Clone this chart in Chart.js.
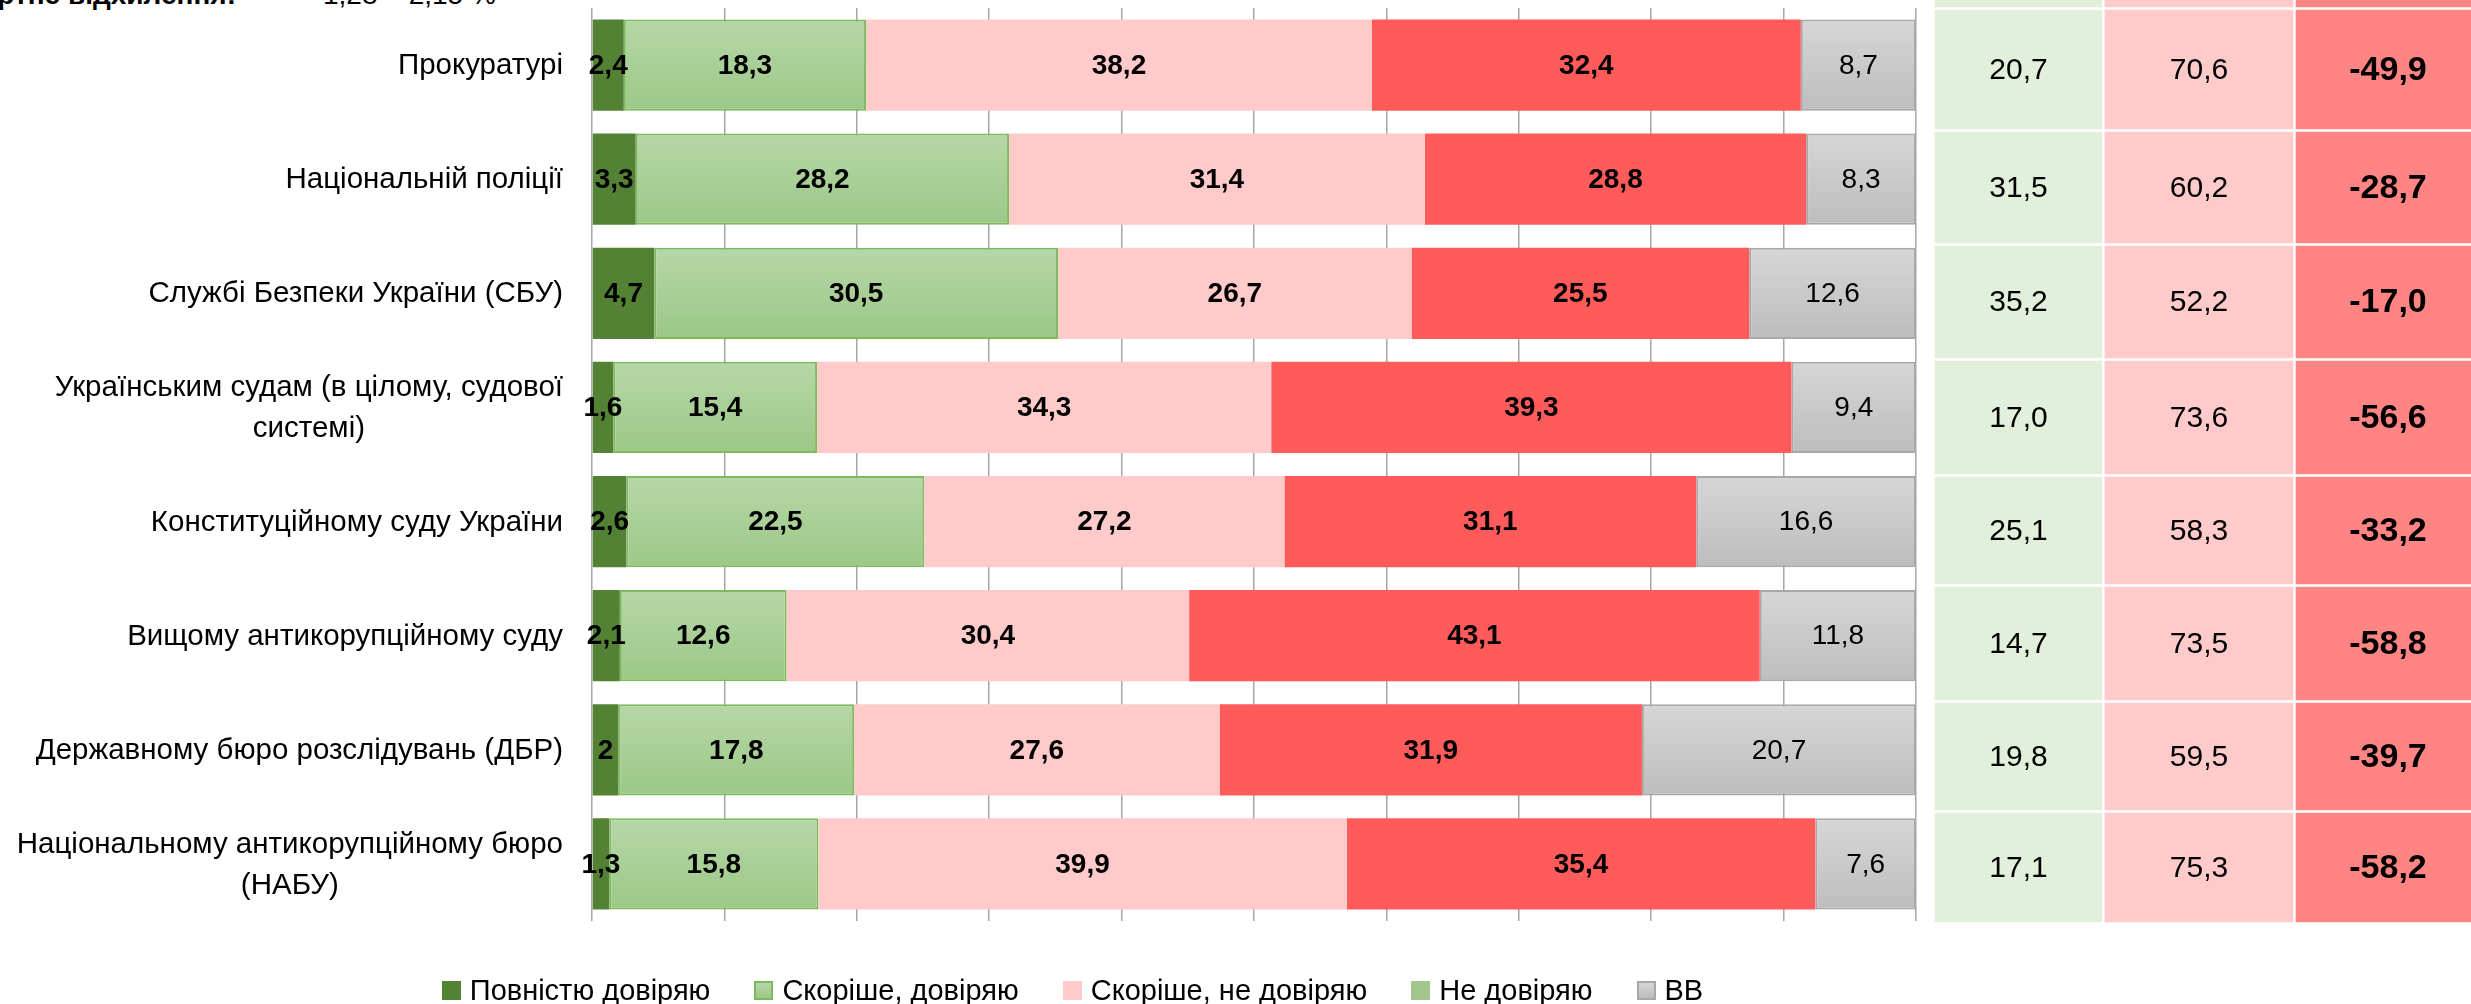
<!DOCTYPE html>
<html>
<head>
<meta charset="utf-8">
<script src="https://cdn.jsdelivr.net/npm/chart.js@4.4.0/dist/chart.umd.min.js"></script>
<style>
  html, body { margin: 0; padding: 0; background: #fff; }
  body { position: relative; width: 2471px; height: 1004px; overflow: hidden;
         font-family: "Liberation Sans", Arial, sans-serif; color: #000; }
  #barChart { position: absolute; left: 0; top: 0; }
  #tableChart { position: absolute; left: 1925px; top: 0; }
  .note { position: absolute; top: -19px; font-size: 28px; line-height: 28px; white-space: nowrap; }
  #legend { position: absolute; left: 0; width: 2145px; top: 975px; display: flex;
            justify-content: center; font-size: 29px; line-height: 30px; white-space: nowrap; }
  #legend .item { display: flex; align-items: center; margin: 0 22px; }
  #legend .sw { width: 19px; height: 19px; box-sizing: border-box; margin-right: 9px; }
</style>
</head>
<body>
<div class="note" style="right: 2235px; font-weight: bold;">Стандартне відхилення:</div>
<div class="note" style="left: 323px;">1,28 – 2,15 %</div>
<canvas id="barChart" width="1930" height="1004"></canvas>
<canvas id="tableChart" width="546" height="1004"></canvas>
<div id="legend"></div>
<script>
const categories = [
    ["Прокуратурі"],
    ["Національній поліції"],
    ["Службі Безпеки України (СБУ)"],
    ["Українським судам (в цілому, судової", "системі)"],
    ["Конституційному суду України"],
    ["Вищому антикорупційному суду"],
    ["Державному бюро розслідувань (ДБР)"],
    ["Національному антикорупційному бюро", "(НАБУ)"]
];
const seriesNames = ["Повністю довіряю", "Скоріше, довіряю", "Скоріше, не довіряю", "Не довіряю", "ВВ"];

const fullyTrust     = [2.4, 3.3, 4.7, 1.6, 2.6, 2.1, 2, 1.3];
const ratherTrust    = [18.3, 28.2, 30.5, 15.4, 22.5, 12.6, 17.8, 15.8];
const ratherDistrust = [38.2, 31.4, 26.7, 34.3, 27.2, 30.4, 27.6, 39.9];
const distrust       = [32.4, 28.8, 25.5, 39.3, 31.1, 43.1, 31.9, 35.4];
const hardToSay      = [8.7, 8.3, 12.6, 9.4, 16.6, 11.8, 20.7, 7.6];

const trustTotal    = [20.7, 31.5, 35.2, 17.0, 25.1, 14.7, 19.8, 17.1];
const distrustTotal = [70.6, 60.2, 52.2, 73.6, 58.3, 73.5, 59.5, 75.3];
const balance       = [-49.9, -28.7, -17.0, -56.6, -33.2, -58.8, -39.7, -58.2];

// table layout (page pixels), first row is the cut-off header
const rowEdges = [[-60, 7], [10, 129], [132, 243], [246, 358], [361, 474], [477, 584], [587, 700], [703, 810], [813, 922]];
const colEdges = [[1935, 2102], [2105, 2293], [2296, 2480]];
const cellColors = ["#e2efda", "#ffcaca", "#ff8585"];

const FONT = '"Liberation Sans", Arial, sans-serif';

function vGrad(top, bottom) {
    return function(c) {
        const chart = c.chart;
        const y = chart.scales && chart.scales.y;
        if (!y || c.dataIndex === undefined) return bottom;
        const mid = y.getPixelForValue(c.dataIndex);
        const half = (y.getPixelForValue(1) - y.getPixelForValue(0)) * 0.4;
        if (!isFinite(mid) || !isFinite(half)) return bottom;
        const g = chart.ctx.createLinearGradient(0, mid - half, 0, mid + half);
        g.addColorStop(0, top);
        g.addColorStop(1, bottom);
        return g;
    };
}

const barStyles = [
    { backgroundColor: "#548235", borderWidth: 0 },
    { backgroundColor: vGrad("#b6d7a8", "#9cc886"), borderColor: "#7dba5c", borderWidth: 2 },
    { backgroundColor: "#ffcaca", borderWidth: 0 },
    { backgroundColor: "#ff5b5b", borderWidth: 0 },
    { backgroundColor: vGrad("#d6d6d6", "#bdbdbd"), borderColor: "#a8a8a8", borderWidth: 2 }
];
const legendSwatches = [
    "background:#548235;",
    "background:linear-gradient(#b6d7a8,#9cc886);border:2px solid #7dba5c;",
    "background:#ffcaca;",
    "background:#a2c68e;",
    "background:linear-gradient(#d6d6d6,#bdbdbd);border:2px solid #a8a8a8;"
];

const seriesValues = [fullyTrust, ratherTrust, ratherDistrust, distrust, hardToSay];

// values inside bars + category names on the left
const barText = {
    id: "barText",
    afterDatasetsDraw(chart) {
        const ctx = chart.ctx;
        const y = chart.scales.y;
        ctx.save();
        ctx.fillStyle = "#000";
        ctx.textAlign = "center";
        ctx.textBaseline = "middle";
        chart.data.datasets.forEach((ds, di) => {
            ctx.font = (di < 4 ? "bold " : "") + "28px " + FONT;
            chart.getDatasetMeta(di).data.forEach((el, i) => {
                const p = el.getCenterPoint();
                ctx.fillText(String(ds.data[i]).replace(".", ","), p.x, p.y + 1);
            });
        });
        ctx.font = "29.5px " + FONT;
        categories.forEach((lines, i) => {
            const w = Math.max(...lines.map(t => ctx.measureText(t).width));
            const cx = chart.chartArea.left - 29 - w / 2;
            const cy = y.getPixelForValue(i);
            const lh = 41;
            lines.forEach((t, k) => {
                ctx.fillText(t, cx, cy + (k - (lines.length - 1) / 2) * lh + 1);
            });
        });
        ctx.restore();
    }
};

new Chart(document.getElementById("barChart"), {
    type: "bar",
    data: {
        labels: categories.map(c => c.join(" ")),
        datasets: seriesNames.map((name, i) => ({
            label: name,
            data: seriesValues[i],
            ...barStyles[i]
        }))
    },
    options: {
        indexAxis: "y",
        responsive: false,
        animation: false,
        layout: { padding: { left: 592, top: 8, right: 14, bottom: 83 } },
        datasets: { bar: { categoryPercentage: 1, barPercentage: 0.8, borderSkipped: false } },
        scales: {
            x: {
                stacked: true, min: 0, max: 100,
                ticks: { display: false, stepSize: 10 },
                grid: { color: "#a6a6a6", lineWidth: 1.5, drawTicks: false },
                border: { display: false }
            },
            y: { stacked: true, display: false }
        },
        plugins: { legend: { display: false }, tooltip: { enabled: false } }
    },
    plugins: [barText]
});

// summary table on the right
const tableCols = [trustTotal, distrustTotal, balance];
const tableText = {
    id: "tableText",
    afterDatasetsDraw(chart) {
        const ctx = chart.ctx;
        ctx.save();
        ctx.fillStyle = "#000";
        ctx.textAlign = "center";
        ctx.textBaseline = "middle";
        chart.data.datasets.forEach((ds, di) => {
            if (di === 0) return;
            chart.getDatasetMeta(di).data.forEach((el, j) => {
                const p = el.getCenterPoint();
                ctx.font = (j === 2 ? "bold 34px " : "30px ") + FONT;
                ctx.fillText(tableCols[j][di - 1].toFixed(1).replace(".", ","), p.x, p.y + 1);
            });
        });
        ctx.restore();
    }
};

new Chart(document.getElementById("tableChart"), {
    type: "bar",
    data: {
        datasets: rowEdges.map(r => ({
            data: colEdges.map(c => ({ x: c, y: (r[0] + r[1]) / 2 })),
            barThickness: r[1] - r[0],
            backgroundColor: cellColors,
            borderWidth: 0,
            grouped: false
        }))
    },
    options: {
        indexAxis: "y",
        responsive: false,
        animation: false,
        layout: { padding: 0 },
        scales: {
            x: { type: "linear", min: 1925, max: 2471, display: false },
            y: { type: "linear", min: 0, max: 1004, reverse: true, offset: false, display: false }
        },
        plugins: { legend: { display: false }, tooltip: { enabled: false } }
    },
    plugins: [tableText]
});

// legend
const legend = document.getElementById("legend");
seriesNames.forEach((name, i) => {
    const item = document.createElement("div");
    item.className = "item";
    item.innerHTML = `<div class="sw" style="${legendSwatches[i]}"></div><span>${name}</span>`;
    legend.appendChild(item);
});
</script>
</body>
</html>
